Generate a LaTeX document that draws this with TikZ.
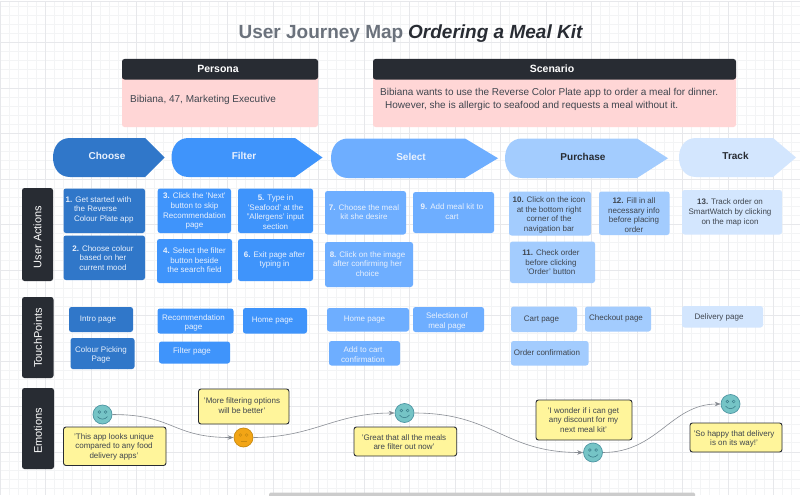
\documentclass[tikz,border=0pt]{standalone}
\usepackage{fontspec}
\setmainfont{Liberation Sans}
\usetikzlibrary{arrows.meta,calc}
\definecolor{gminor}{HTML}{F3F4F5}
\definecolor{gmajor}{HTML}{E7E8EB}
\definecolor{ink}{HTML}{282C33}
\definecolor{soft}{HTML}{3F454E}
\definecolor{slate}{HTML}{6B727C}
\definecolor{pinkbg}{HTML}{FFD6D6}
\definecolor{cA}{HTML}{3077C9}
\definecolor{cB}{HTML}{3F94FB}
\definecolor{cC}{HTML}{6EAEFF}
\definecolor{cD}{HTML}{A3CCFE}
\definecolor{cE}{HTML}{D3E6FE}
\definecolor{notebg}{HTML}{FFF59B}
\definecolor{txtlight}{HTML}{E9F1FD}
\definecolor{teal}{HTML}{75C4C6}
\definecolor{tealdk}{HTML}{4E96A3}
\definecolor{tealln}{HTML}{3C7F8C}
\definecolor{orng}{HTML}{F2A516}
\definecolor{orngdk}{HTML}{C98A10}
\definecolor{wire}{HTML}{8A8E95}
\tikzset{
  boxtext/.style={inner sep=0pt,yshift=-0.8pt,align=center,font=\fontsize{8}{9.65}\selectfont},
  lt/.style={boxtext,text=txtlight},
  dk/.style={boxtext,text=soft},
  notetext/.style={boxtext,text=soft},
  sidebar/.style={fill=ink,rounded corners=2.5pt},
  sidelabel/.style={text=white,rotate=90,inner sep=0pt,font=\fontsize{11}{13}\selectfont},
  headlabel/.style={text=white,inner sep=0pt,font=\fontsize{10.5}{12}\selectfont\bfseries},
  chevlabel/.style={inner sep=0pt,font=\fontsize{10}{12}\selectfont\bfseries},
  bodytext/.style={text=soft,inner sep=0pt,align=left,font=\fontsize{10}{12.7}\selectfont},
  notebox/.style={fill=notebg,draw=ink,line width=0.9pt,rounded corners=2.5pt},
  happy/.style={circle,draw=tealdk,fill=teal,line width=0.7pt,minimum size=19pt,inner sep=0pt},
  plainface/.style={circle,draw=orngdk,fill=orng,line width=0.7pt,minimum size=19pt,inner sep=0pt},
  conn/.style={draw=wire,line width=0.6pt,-{Stealth[length=6pt,width=4.5pt,fill=soft!70]}},
}
\newcommand{\bx}[9]{%
  \fill[#2,rounded corners=2.5pt] (#3,#4) rectangle (#5,#6);
  \node[#8] (#1) at (#7) {#9};}
\newcommand{\chev}[8]{%
  \fill[#2] (#7,#4) -- (#5,{(#4+#6)/2}) -- (#7,#6) -- ({#3+17},#6)
     .. controls ({#3+6},#6) and (#3,{#6-9}) .. (#3,{(#4+#6)/2})
     .. controls (#3,{#4+9}) and ({#3+6},#4) .. ({#3+17},#4) -- cycle;
  #8}
\newcommand{\faceeyes}[2]{%
  \draw[#2,line width=0.5pt] ($(#1)+(-3.2,-2.5)$) circle (1.4pt);
  \draw[#2,line width=0.5pt] ($(#1)+(3.2,-2.5)$) circle (1.4pt);}
\newcommand{\grinface}[1]{%
  \faceeyes{#1}{tealln}
  \draw[tealln,line width=0.6pt] ($(#1)+(-5,2)$) .. controls ($(#1)+(-2.5,5.5)$) and ($(#1)+(2.5,5.5)$) .. ($(#1)+(5,2)$);}
\begin{document}
\begin{tikzpicture}[x=1pt,y=-1pt]
\useasboundingbox (0,0) rectangle (800,495);
\fill[white] (0,0) rectangle (800,495);
% grid
\foreach \i in {1,...,87} {\draw[gminor,line width=0.7pt] ({9.1*\i},2) -- ({9.1*\i},495);}
\foreach \i in {0,...,53} {\draw[gminor,line width=0.7pt] (0,{6+9.1*\i}) -- (800,{6+9.1*\i});}
\foreach \i in {1,...,17} {\draw[gmajor,line width=0.8pt] ({45.5*\i},2) -- ({45.5*\i},495);}
\foreach \i in {0,...,9} {\draw[gmajor,line width=0.8pt] (0,{42.5+45.5*\i}) -- (800,{42.5+45.5*\i});}
\draw[gmajor,line width=1pt] (0.5,495) -- (0.5,2) -- (800,2);
% title
\node[inner sep=0pt,anchor=base east,font=\fontsize{19}{23}\selectfont\bfseries,text=slate] (titleA) at (403.5,39) {User Journey Map};
\node[inner sep=0pt,anchor=base west,text=ink,font=\fontsize{19}{23}\selectfont\bfseries\itshape] (titleB) at (408,39) {Ordering a Meal Kit};
% persona
\fill[pinkbg,rounded corners=2.5pt] (122,70) rectangle (318,127);
\fill[ink,rounded corners=2.5pt] (122,59) rectangle (318,79.5);
\node[headlabel] (persona) at (218,69) {Persona};
\node[bodytext,anchor=west] (personatext) at (130,100) {Bibiana, 47, Marketing Executive};
\fill[pinkbg,rounded corners=2.5pt] (373,70) rectangle (736,127);
\fill[ink,rounded corners=2.5pt] (373,59) rectangle (736,79.5);
\node[headlabel] (scenario) at (552,69) {Scenario};
\node[bodytext,anchor=west] (scenariotext) at (380,99.3) {Bibiana wants to use the Reverse Color Plate app to order a meal for dinner.\\\hspace*{5pt}However, she is allergic to seafood and requests a meal without it.};
% stage chevrons
\chev{choose}{cA}{53}{138}{164.5}{177}{145}{\node[chevlabel,text=txtlight] (choose) at (107,155.5) {Choose};}
\chev{filter}{cB}{171.5}{138}{322.5}{177}{295}{\node[chevlabel,text=txtlight] (filter) at (244,155.5) {Filter};}
\chev{select}{cC}{331}{138.5}{498}{178}{465}{\node[chevlabel,text=txtlight] (select) at (411,157) {Select};}
\chev{purchase}{cD}{505}{138.5}{668}{178}{637}{\node[chevlabel,text=ink] (purchase) at (583,157) {Purchase};}
\chev{track}{cE}{679}{138}{796}{177}{773}{\node[chevlabel,text=ink] (track) at (735.5,155.5) {Track};}
% side bars
\fill[sidebar] (22,188) rectangle (53,281);
\node[sidelabel] (ua) at (37.5,237) {User Actions};
\fill[sidebar] (22,297) rectangle (53.5,378);
\node[sidelabel] (tp) at (38,338) {TouchPoints};
\fill[sidebar] (22,388) rectangle (54,469);
\node[sidelabel] (em) at (38,431) {Emotions};
% user actions
\bx{a1}{cA}{63.5}{188.5}{145}{233}{65.5,209}{lt,anchor=west,align=left}{\textbf{1.}\hspace{3pt}Get started with\\\hspace*{8.3pt}the Reverse\\\hspace*{8.3pt}Colour Plate app}
\bx{a2}{cA}{63.5}{235.5}{145}{280}{103,257}{lt}{\textbf{2.} Choose colour\\based on her\\current mood}
\bx{a3}{cB}{157.7}{188.5}{231}{233}{194.5,210.5}{lt}{\textbf{3.} Click the 'Next'\\button to skip\\Recommendation\\page}
\bx{a4}{cB}{157}{239}{232}{283}{194.5,259.5}{lt}{\textbf{4.}\hspace{3pt}Select the filter\\button beside\\the search field}
\bx{a5}{cB}{238}{188.5}{313}{233}{275.5,211.5}{lt}{\textbf{5.} Type in\\'Seafood' at the\\"Allergens' input\\section}
\bx{a6}{cB}{238}{239}{313}{281}{274.5,259}{lt}{\textbf{6.} Exit page after\\typing in}
\bx{a7}{cC}{325}{191}{406}{234.5}{364,211.5}{lt}{\textbf{7.} Choose the meal\\kit she desire}
\bx{a9}{cC}{413}{192}{494}{233}{452,211}{lt}{\textbf{9.} Add meal kit to\\cart}
\bx{a8}{cC}{325}{242}{413}{287}{367.5,263}{lt}{\textbf{8.} Click on the image\\after confirming her\\choice}
\bx{a10}{cD}{509}{191.5}{591}{235.5}{549,214.3}{dk}{\textbf{10.} Click on the icon\\at the bottom right\\corner of the\\navigation bar}
\bx{a12}{cD}{599}{191.5}{669.5}{235}{634,214.3}{dk}{\textbf{12.} Fill in all\\necessary info\\before placing\\order}
\bx{a11}{cD}{510}{241.5}{595}{283}{551,261.5}{dk}{\textbf{11.} Check order\\before clicking\\'Order' button}
\bx{a13}{cE}{682}{190}{782}{234.5}{730,211.5}{dk}{\textbf{13.} Track order on\\SmartWatch by clicking\\on the map icon}
% touch points
\bx{t1}{cA}{69}{307}{133}{332}{98,319}{lt}{Intro page}
\bx{t2}{cA}{70.5}{338}{134.5}{369}{101,354}{lt}{Colour Picking\\Page}
\bx{t3}{cB}{157.5}{308.5}{233.5}{333.5}{193.5,322}{lt}{Recommendation\\page}
\bx{t4}{cB}{243}{308}{307}{333.5}{272.5,320}{lt}{Home page}
\bx{t5}{cB}{159}{341.5}{230}{363.5}{192,351}{lt}{Filter page}
\bx{t6}{cC}{327}{308}{409}{331.5}{364.5,319}{lt}{Home page}
\bx{t7}{cC}{413}{307}{484}{332}{447,320.5}{lt}{Selection of\\meal page}
\bx{t8}{cC}{329}{341}{400}{365.5}{363,354}{lt}{Add to cart\\confirmation}
\bx{t9}{cD}{511}{306.5}{577}{332}{541.5,319}{dk}{Cart page}
\bx{t10}{cD}{585}{306.5}{651}{331.5}{616,318}{dk}{Checkout page}
\bx{t11}{cD}{511}{341}{588.5}{365.5}{547,352}{dk}{Order confirmation}
\bx{t12}{cE}{682}{306}{763}{327.5}{719,316.5}{dk}{Delivery page}
% notes
\draw[notebox] (63.5,427) rectangle (166,465.5);
\node[notetext] (n1) at (114,446) {'This app looks unique\\compared to any food\\delivery apps'};
\draw[notebox] (198.5,389) rectangle (289,424);
\node[notetext] (n2) at (242,405) {'More filtering options\\will be better'};
\draw[notebox] (354,427) rectangle (456.7,456);
\node[notetext] (n3) at (404,441.3) {'Great that all the meals\\are filter out now'};
\draw[notebox] (536,400) rectangle (632,440);
\node[notetext] (n4) at (583.5,419.3) {'I wonder if i can get\\any discount for my\\next meal kit'};
\draw[notebox] (690,423) rectangle (782,452);
\node[notetext] (n5) at (734,438) {'So happy that delivery\\is on its way!'};
% faces
\node[happy] (f1) at (102.5,414.5) {};
\node[plainface] (f2) at (243.5,437.5) {};
\node[happy] (f3) at (404.5,413) {};
\node[happy] (f4) at (593,452.5) {};
\node[happy] (f5) at (730.5,404) {};
\grinface{f1}\grinface{f3}\grinface{f4}\grinface{f5}
\faceeyes{f2}{orngdk}
\draw[orngdk,line width=0.6pt] ($(f2)+(-3,3.5)$) -- ($(f2)+(3,3.5)$);
% connectors
\draw[conn] (f1.east) .. controls +(62,0) and +(-62,0) .. (f2.west);
\draw[conn] (f2.east) .. controls +(60,0) and +(-60,0) .. (f3.west);
\draw[conn] (f3.east) .. controls +(80,0) and +(-80,0) .. (f4.west);
\draw[conn] (f4.east) .. controls +(55,0) and +(-50,0) .. (f5.west);
% scroll bar
\fill[black!20,rounded corners=1.5pt] (269,492.5) rectangle (695,500);
\end{tikzpicture}
\end{document}
